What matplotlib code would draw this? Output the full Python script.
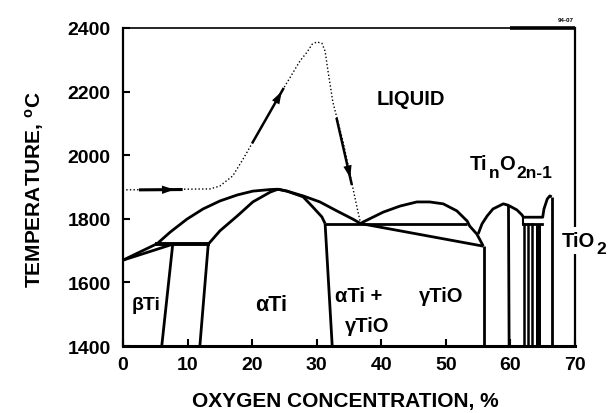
import matplotlib
matplotlib.use('Agg')
import matplotlib.pyplot as plt

plt.rcParams['font.family'] = ['Liberation Sans', 'DejaVu Sans']
plt.rcParams['font.weight'] = 'bold'
plt.rcParams['mathtext.fontset'] = 'custom'
plt.rcParams['mathtext.rm'] = 'Liberation Sans:bold'
plt.rcParams['mathtext.it'] = 'Liberation Sans:bold'
plt.rcParams['mathtext.bf'] = 'Liberation Sans:bold'
plt.rcParams['mathtext.sf'] = 'Liberation Sans:bold'

# ---- data (oxygen %, temperature degC) ----
x_ticks = [0, 10, 20, 30, 40, 50, 60, 70]
y_ticks = [1400, 1600, 1800, 2000, 2200, 2400]

# beta-Ti liquidus -> alpha-Ti liquidus (left branch)
liq_left_x = [0, 5.3, 7.3, 9.9, 12.4, 15.0, 17.7, 20.1, 22.8, 24.0]
liq_left_t = [1670, 1722, 1758, 1799, 1831, 1856, 1875, 1887, 1892, 1893]
# beta-Ti solidus
beta_sol_x = [0, 7.7]
beta_sol_t = [1670, 1720]
# peritectic
perit_x = [5.3, 13.2]
perit_t = [1720, 1720]
# alpha-Ti solidus (left branch)
a_sol_left_x = [13.2, 15.0, 17.7, 20.1, 22.8, 24.0]
a_sol_left_t = [1720, 1762, 1809, 1853, 1884, 1893]
# alpha-Ti liquidus (right branch) to eutectic
liq_right_x = [24.0, 25.4, 27.9, 30.5, 33.1, 35.6, 36.8]
liq_right_t = [1893, 1887, 1872, 1853, 1825, 1799, 1785]
# alpha-Ti solidus (right branch)
a_sol_right_x = [24.0, 25.4, 27.9, 29.4, 30.8, 31.3]
a_sol_right_t = [1893, 1887, 1869, 1837, 1806, 1785]
# beta/alpha boundaries
beta_bound_x = [7.7, 6.0]
beta_bound_t = [1720, 1400]
alpha_bound_x = [13.2, 11.9]
alpha_bound_t = [1720, 1400]
# alpha / alpha+gammaTiO boundary
a_g_bound_x = [31.3, 32.4]
a_g_bound_t = [1785, 1400]
# eutectic
eut_x = [31.3, 53.3]
eut_t = [1785, 1785]
# gamma-TiO liquidus
g_liq_x = [36.8, 37.2, 40.3, 42.9, 45.5, 47.5, 49.6, 51.7, 53.3, 53.7, 54.8, 55.8]
g_liq_t = [1785, 1790, 1821, 1840, 1853, 1853, 1847, 1825, 1793, 1777, 1752, 1714]
# gamma-TiO solidus
g_sol_x = [36.8, 55.8]
g_sol_t = [1785, 1714]
g_bound_x = [55.9, 55.9]
g_bound_t = [1714, 1400]
# Ti_nO_2n-1 dome
d_liq_x = [55.0, 55.6, 56.4, 57.3, 58.9, 59.6, 59.9, 61.0, 61.8, 62.0, 65.0, 65.2, 65.7, 66.1, 66.4]
d_liq_t = [1752, 1784, 1809, 1831, 1847, 1843, 1840, 1828, 1812, 1805, 1805, 1831, 1862, 1872, 1869]
d_vert_x = [59.7, 59.8]
d_vert_t = [1843, 1400]
tio2_bound_x = [66.4, 66.4]
tio2_bound_t = [1869, 1400]
# Magneli phases
mag_top_x = [62.0, 64.9]
mag_top_t = [1784, 1784]
mag_lines_x = [62.15, 62.77, 63.3]
mag_thick_x = [64.0, 64.8]
# dotted path (solidification path)
path_x = [0.5, 13.5, 15.0, 17.0, 18.6, 20.1, 24.8, 27.4, 28.5, 29.3, 30.0, 30.8, 31.3,
          31.7, 32.5, 34.1, 35.2, 36.4, 36.8]
path_t = [1891, 1894, 1903, 1935, 1988, 2041, 2208, 2296, 2324, 2349, 2356, 2352, 2327,
          2271, 2167, 2041, 1935, 1821, 1785]

fig = plt.figure(figsize=(6.16, 4.14), dpi=100)
ax = fig.add_axes([0.1997, 0.1618, 0.7337, 0.7682])
ax.set_xlim(0, 70)
ax.set_ylim(1400, 2400)

lw = 2.0
k = 'black'
for xs, ts in [(liq_left_x, liq_left_t), (beta_sol_x, beta_sol_t), (a_sol_left_x, a_sol_left_t),
               (liq_right_x, liq_right_t), (a_sol_right_x, a_sol_right_t),
               (beta_bound_x, beta_bound_t), (alpha_bound_x, alpha_bound_t),
               (a_g_bound_x, a_g_bound_t), (g_liq_x, g_liq_t), (g_sol_x, g_sol_t),
               (g_bound_x, g_bound_t), (d_liq_x, d_liq_t), (d_vert_x, d_vert_t),
               (tio2_bound_x, tio2_bound_t), (eut_x, eut_t)]:
    ax.plot(xs, ts, color=k, lw=lw, solid_capstyle='butt')
ax.plot(perit_x, perit_t, color=k, lw=2.8)
ax.plot(mag_top_x, mag_top_t, color=k, lw=2.0)
for xv in mag_lines_x:
    ax.plot([xv, xv], [mag_top_t[0], 1400], color=k, lw=1.8)
ax.plot([mag_top_x[0], mag_top_x[0]], [1805, 1784], color=k, lw=1.5)
ax.fill_between(mag_thick_x, [1400, 1400], [mag_top_t[0], mag_top_t[0]], color=k, lw=0)

# dotted path
ax.plot(path_x, path_t, color=k, lw=1.0, linestyle=(0, (1, 1.6)))
# arrows along path
ax.plot([2.7, 9.0], [1891, 1892], color=k, lw=2.2)
ax.annotate('', xy=(8.4, 1892), xytext=(5.0, 1891),
            arrowprops=dict(arrowstyle='-|>,head_length=0.9,head_width=0.3', color=k, lw=0))
ax.plot([20.1, 24.8], [2041, 2208], color=k, lw=1.8)
ax.annotate('', xy=(24.8, 2208), xytext=(23.2, 2150),
            arrowprops=dict(arrowstyle='-|>,head_length=0.9,head_width=0.3', color=k, lw=0))
ax.plot([33.1, 35.4], [2114, 1910], color=k, lw=1.8)
ax.annotate('', xy=(35.3, 1920), xytext=(34.5, 1990),
            arrowprops=dict(arrowstyle='-|>,head_length=0.9,head_width=0.3', color=k, lw=0))

# labels
ax.text(44.6, 2177, 'LIQUID', fontsize=14.5, fontweight='bold', ha='center', va='center')
# Ti_nO_2n-1 built from pieces (large, strongly lowered subscripts as in the original)
t_ti = ax.text(53.7, 1957, 'Ti', fontsize=14.5, ha='left', va='baseline')
t_n = ax.annotate('n', xy=(1, 0), xycoords=t_ti, xytext=(1, -5), textcoords='offset points',
                  fontsize=12.5, ha='left', va='bottom')
t_o = ax.annotate('O', xy=(1, 0), xycoords=t_n, xytext=(0, 5), textcoords='offset points',
                  fontsize=14.5, ha='left', va='bottom')
ax.annotate('2n-1', xy=(1, 0), xycoords=t_o, xytext=(1, -5), textcoords='offset points',
            fontsize=12.5, ha='left', va='bottom')
t_tio = ax.text(68.0, 1714, 'TiO', fontsize=14.5, ha='left', va='baseline',
                bbox=dict(facecolor='white', edgecolor='none', pad=3), clip_on=False, zorder=5)
ax.annotate('2', xy=(1, 0), xycoords=t_tio, xytext=(1, -4), textcoords='offset points',
            fontsize=12.5, ha='left', va='bottom', zorder=6)
ax.text(3.6, 1529, 'βTi', fontsize=14, ha='center', va='center')
ax.text(22.9, 1529, 'αTi', fontsize=15.5, ha='center', va='center')
ax.text(32.8, 1560, 'αTi +', fontsize=14.5, ha='left', va='center')
ax.text(37.8, 1463, 'γTiO', fontsize=14.5, ha='center', va='center')
ax.text(49.2, 1560, 'γTiO', fontsize=14.5, ha='center', va='center')

# axes styling
ax.set_xticks(x_ticks)
ax.set_yticks(y_ticks)
ax.set_xticklabels([str(v) for v in x_ticks])
ax.set_yticklabels([str(v) for v in y_ticks])
ax.tick_params(direction='in', length=5, width=1.5, labelsize=14, top=False, right=False)
ax.tick_params(axis='y', pad=9)
ax.tick_params(axis='x', pad=7)
for lab in ax.get_xticklabels() + ax.get_yticklabels():
    lab.set_fontweight('bold')
ax.spines['bottom'].set_linewidth(2.2)
ax.spines['left'].set_linewidth(1.6)
ax.spines['top'].set_linewidth(1.2)
ax.spines['right'].set_linewidth(1.6)
ax.plot([60, 70], [2400, 2400], color=k, lw=2.6, clip_on=False, solid_capstyle='butt')

fig.text(345 / 616, 1 - 402 / 414, 'OXYGEN CONCENTRATION, %', fontsize=15,
         fontweight='bold', ha='center', va='center')
fig.text(35 / 616, 1 - 190 / 414, r'TEMPERATURE, $^{\mathrm{o}}$C', fontsize=15,
         fontweight='bold', ha='center', va='center', rotation=90)
fig.text(566 / 616, 1 - 21 / 414, '94-07', fontsize=4.5, fontweight='bold', ha='center', va='center')

fig.savefig('out.png', dpi=100)
